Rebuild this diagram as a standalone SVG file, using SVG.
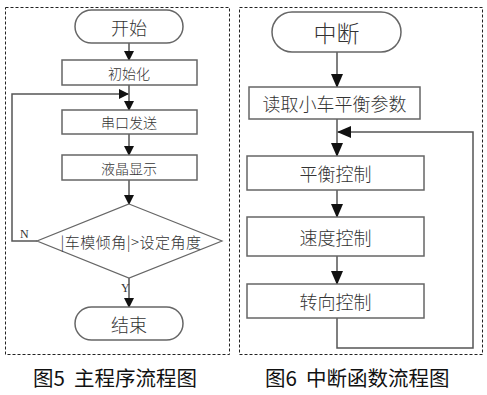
<svg xmlns="http://www.w3.org/2000/svg" width="487" height="395" viewBox="0 0 487 395">
<style>
.frame{fill:none;stroke:#222;stroke-width:1;stroke-dasharray:3,2}
.box{fill:#fff;stroke:#666;stroke-width:1.5}
.line{fill:none;stroke:#555;stroke-width:1.5}
.t{font-family:"Noto Sans CJK SC","Noto Sans",sans-serif;fill:#333;text-anchor:middle;dominant-baseline:central}
.lbl{font-family:"Liberation Serif",serif;fill:#333;font-size:12px}
.cap{font-family:"Noto Sans CJK SC",sans-serif;fill:#111;font-size:20.5px;font-weight:400}
</style>
<defs>
<marker id="ah" markerWidth="10" markerHeight="10" refX="9" refY="5" orient="auto" markerUnits="userSpaceOnUse">
<path d="M0,0 L10,5 L0,10 Z" fill="#111"/>
</marker>
<marker id="ah2" markerWidth="14" markerHeight="12" refX="13" refY="6" orient="auto" markerUnits="userSpaceOnUse">
<path d="M0,0 L14,6 L0,12 Z" fill="#111"/>
</marker>
</defs>
<rect class="frame" x="5.5" y="7.5" width="224" height="347"/>
<rect class="frame" x="239.5" y="7.5" width="243" height="347"/>
<g id="connectors">
<line class="line" x1="129" y1="43" x2="129" y2="60" marker-end="url(#ah)"/>
<line class="line" x1="129" y1="85" x2="129" y2="110" marker-end="url(#ah)"/>
<line class="line" x1="129" y1="134" x2="129" y2="155" marker-end="url(#ah)"/>
<line class="line" x1="129" y1="180" x2="129" y2="204" marker-end="url(#ah)"/>
<polyline class="line" points="37,241 12,241 12,94 128,94" marker-end="url(#ah)"/>
<line class="line" x1="129" y1="278" x2="129" y2="307" marker-end="url(#ah)"/>
<line class="line" x1="337" y1="52" x2="337" y2="87" marker-end="url(#ah2)"/>
<line class="line" x1="337" y1="119" x2="337" y2="156" marker-end="url(#ah2)"/>
<line class="line" x1="337" y1="190" x2="337" y2="217" marker-end="url(#ah2)"/>
<line class="line" x1="337" y1="256" x2="337" y2="284" marker-end="url(#ah2)"/>
<polyline class="line" points="337,318 337,348 473,348 473,132 338,132" marker-end="url(#ah2)"/>
<text class="lbl" x="20" y="238">N</text>
<text class="lbl" x="121" y="292">Y</text>
</g>
<g id="start">
<rect class="box" x="75" y="10" width="108" height="33" rx="16.5"/>
<text class="t" x="129" y="27" font-size="18" font-weight="300">开始</text>
</g>
<g id="init">
<rect class="box" x="62" y="60" width="135" height="25"/>
<text class="t" x="129" y="72.5" font-size="14" font-weight="300">初始化</text>
</g>
<g id="serial">
<rect class="box" x="62" y="110" width="135" height="24"/>
<text class="t" x="129" y="122" font-size="14" font-weight="300">串口发送</text>
</g>
<g id="lcd">
<rect class="box" x="62" y="155" width="135" height="25"/>
<text class="t" x="129" y="167.5" font-size="14" font-weight="300">液晶显示</text>
</g>
<g id="decision">
<polygon class="box" style="stroke-width:1.2" points="129,204 222,241 129,278 37,241"/>
<text class="t" x="131" y="241" font-size="15" font-weight="300" letter-spacing="0.5">|车模倾角|&gt;设定角度</text>
</g>
<g id="end">
<rect class="box" x="75" y="307" width="108" height="33" rx="16.5"/>
<text class="t" x="129" y="323.5" font-size="18" font-weight="300">结束</text>
</g>
<g id="interrupt">
<rect class="box" x="272" y="12" width="129" height="40" rx="20"/>
<text class="t" x="336.5" y="32" font-size="23" font-weight="300">中断</text>
</g>
<g id="read">
<rect class="box" x="249" y="87" width="171" height="32"/>
<text class="t" x="334.5" y="103" font-size="18" font-weight="300">读取小车平衡参数</text>
</g>
<g id="balance">
<rect class="box" x="247" y="156" width="177" height="34"/>
<text class="t" x="335.5" y="173" font-size="18" font-weight="300">平衡控制</text>
</g>
<g id="speed">
<rect class="box" x="247" y="217" width="177" height="39"/>
<text class="t" x="335.5" y="236.5" font-size="18" font-weight="300">速度控制</text>
</g>
<g id="steer">
<rect class="box" x="247" y="284" width="177" height="34"/>
<text class="t" x="335.5" y="301" font-size="18" font-weight="300">转向控制</text>
</g>
<text class="cap" x="33" y="386" xml:space="preserve">图5  主程序流程图</text>
<text class="cap" x="265" y="386" xml:space="preserve">图6  中断函数流程图</text>
</svg>
